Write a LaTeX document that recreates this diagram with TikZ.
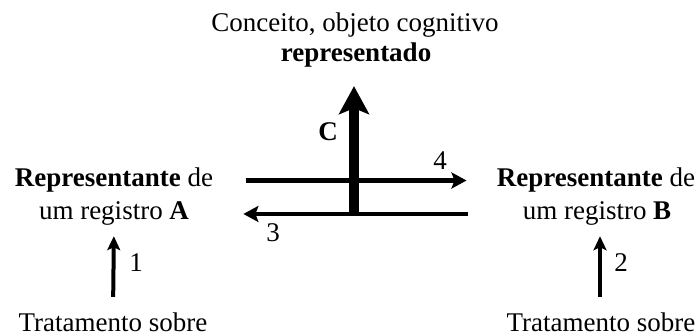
\documentclass[tikz,border=0pt]{standalone}
\usepackage{fontspec}
\setmainfont{Liberation Serif}
\usetikzlibrary{arrows.meta}

\begin{document}
\begin{tikzpicture}[x=0.5pt, y=-0.5pt,
  every node/.style={font=\fontsize{13.5}{15}\selectfont, inner sep=0pt},
  txt/.style={anchor=base},
  arr/.style={line width=2.3pt, -{Stealth[length=7.5pt, width=8pt, inset=1.5pt]}},
  smallarr/.style={line width=2pt, -{Stealth[length=7pt, width=6.5pt, inset=1.5pt]}},
  bigarr/.style={line width=5pt, -{Stealth[length=14pt, width=15pt, inset=3pt]}}]
  \useasboundingbox (0,0) rectangle (700,336);
  % concept on top
  \node[txt] (conc) at (355,32) {Conceito, objeto cognitivo};
  \node[txt] (repr) at (356,62) {\textbf{representado}};
  % register A
  \node[txt] (repA) at (114,187) {\textbf{Representante} de};
  \node[txt] (regA) at (114,220) {um registro \textbf{A}};
  \node[txt] (tratA) at (113,331) {Tratamento sobre};
  % register B
  \node[txt] (repB) at (596,187) {\textbf{Representante} de};
  \node[txt] (regB) at (597,220) {um registro \textbf{B}};
  \node[txt] (tratB) at (601,331) {Tratamento sobre};
  \coordinate (cbase) at (354,214);
  % conversions
  \draw[arr, shorten <=16pt, shorten >=15pt] (repA.east) -- (repB.west);
  \draw[arr, shorten <=27pt, shorten >=27pt] (regB.west) -- (regA.east);
  \draw[bigarr, shorten >=9pt] (cbase) -- (cbase |- repr.south);
  % treatments
  \draw[smallarr, shorten <=7.5pt, shorten >=5pt] (tratA.north) -- (regA.south);
  \draw[smallarr, shorten <=7.5pt, shorten >=5pt] (tratB.north -| 600,0) -- (600,0 |- regB.south);
  % labels
  \node[font=\fontsize{13.5}{15}\selectfont\bfseries] (lC) at (328,132) {C};
  \node (l4) at (440,161) {4};
  \node (l3) at (273,233) {3};
  \node (l1) at (136,263) {1};
  \node (l2) at (621,263) {2};
\end{tikzpicture}
\end{document}
